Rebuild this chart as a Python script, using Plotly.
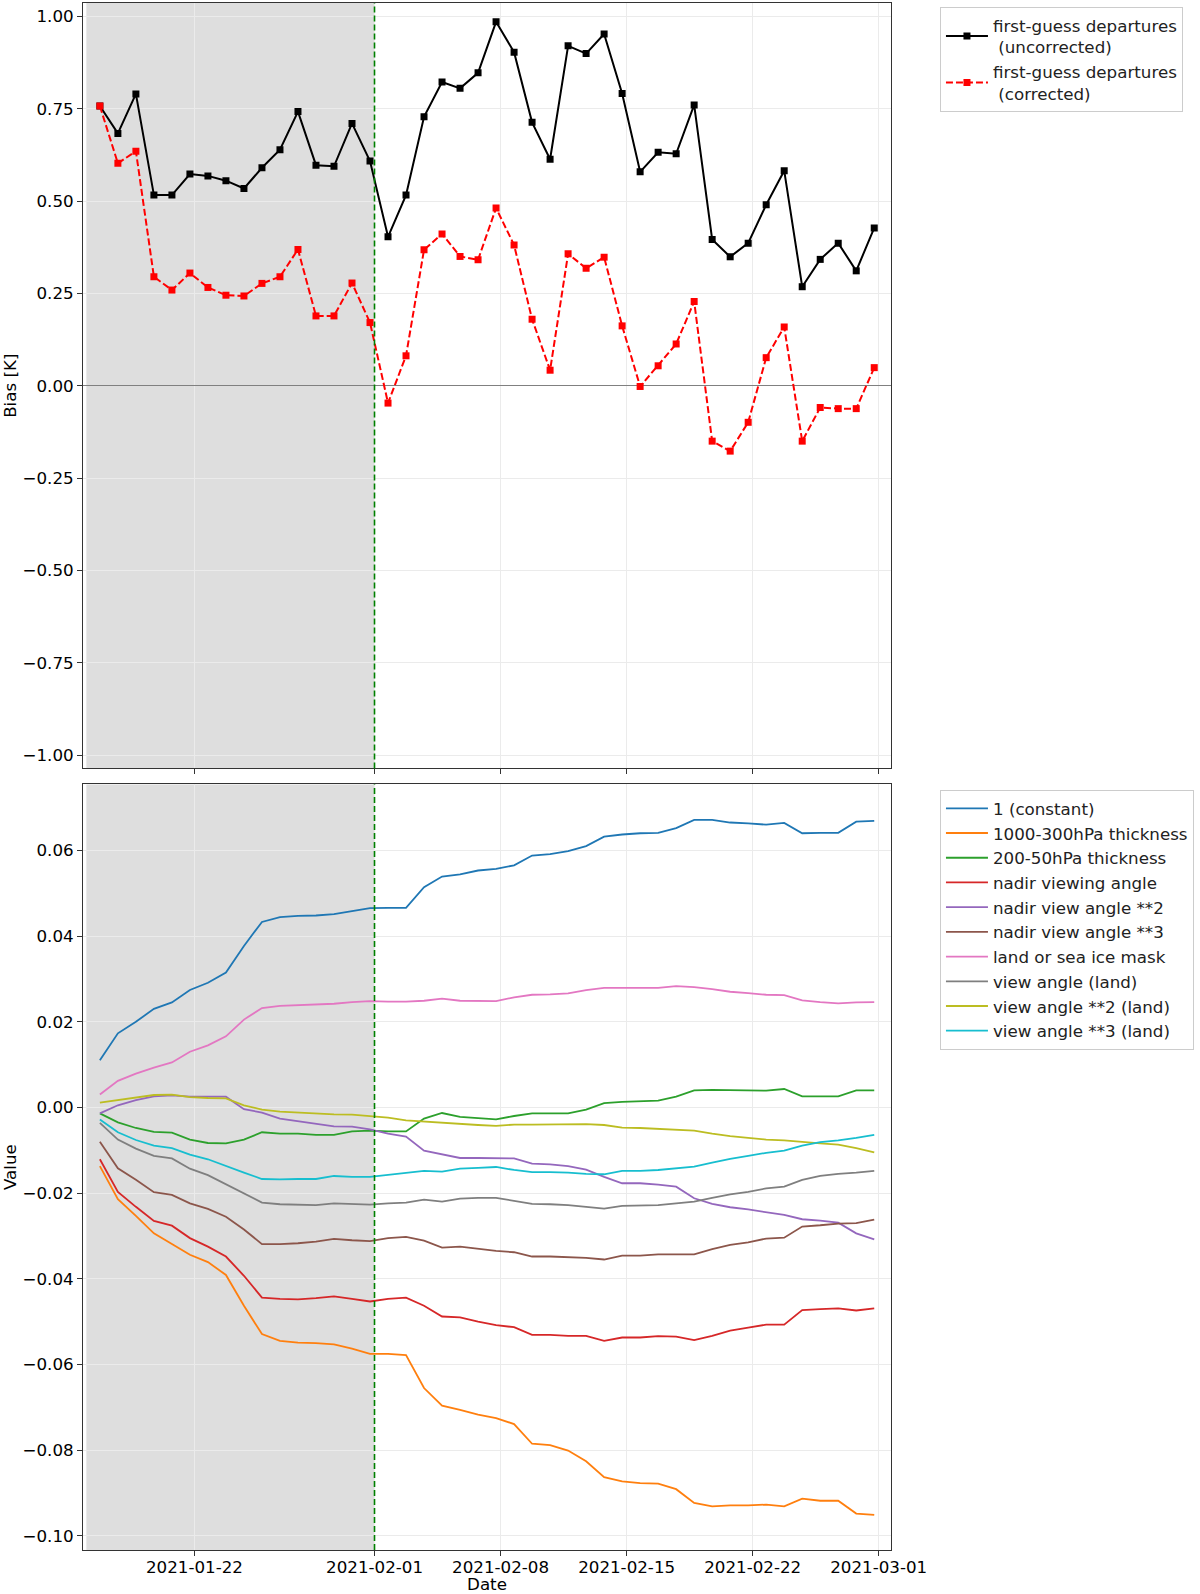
import pandas as pd
import plotly.graph_objects as go
from plotly.subplots import make_subplots

# ---------------- data ----------------
dates = pd.date_range("2021-01-16 18:00", periods=44, freq="D").strftime("%Y-%m-%d %H:%M").tolist()

fg_uncorrected = [0.757, 0.683, 0.790, 0.516, 0.516, 0.573, 0.568, 0.555, 0.534, 0.590, 0.639,
                  0.742, 0.597, 0.594, 0.710, 0.608, 0.403, 0.516, 0.728, 0.822, 0.805, 0.847,
                  0.985, 0.903, 0.713, 0.613, 0.920, 0.899, 0.952, 0.791, 0.579, 0.632, 0.628,
                  0.760, 0.396, 0.349, 0.386, 0.490, 0.582, 0.268, 0.342, 0.386, 0.311, 0.427]
fg_corrected = [0.757, 0.602, 0.635, 0.295, 0.259, 0.305, 0.266, 0.245, 0.243, 0.277, 0.295,
                0.369, 0.189, 0.189, 0.278, 0.171, -0.047, 0.081, 0.368, 0.411, 0.350, 0.341,
                0.481, 0.381, 0.180, 0.042, 0.357, 0.318, 0.348, 0.162, -0.002, 0.054, 0.113,
                0.228, -0.150, -0.177, -0.099, 0.076, 0.159, -0.150, -0.059, -0.062, -0.062, 0.049]

pred_constant = [0.0110, 0.0173, 0.0200, 0.0230, 0.0245, 0.0274, 0.0291, 0.0315, 0.0377, 0.0433, 0.0444,
                 0.0447, 0.0448, 0.0451, 0.0458, 0.0465, 0.0466, 0.0466, 0.0514, 0.0539, 0.0544, 0.0553,
                 0.0557, 0.0565, 0.0588, 0.0591, 0.0598, 0.0610, 0.0632, 0.0637, 0.0640, 0.0641, 0.0652,
                 0.0671, 0.0671, 0.0665, 0.0663, 0.0660, 0.0664, 0.0640, 0.0641, 0.0641, 0.0667, 0.0669]
pred_thick_1000_300 = [-0.0137, -0.0214, -0.0253, -0.0294, -0.0319, -0.0344, -0.0361, -0.0391, -0.0463, -0.0529, -0.0545,
                       -0.0549, -0.0550, -0.0553, -0.0563, -0.0575, -0.0575, -0.0578, -0.0655, -0.0696, -0.0706, -0.0717,
                       -0.0725, -0.0739, -0.0785, -0.0788, -0.0801, -0.0826, -0.0863, -0.0873, -0.0877, -0.0878, -0.0891,
                       -0.0923, -0.0931, -0.0929, -0.0929, -0.0927, -0.0931, -0.0913, -0.0918, -0.0918, -0.0948, -0.0951]
pred_thick_200_50 = [-0.0014, -0.0035, -0.0048, -0.0057, -0.0059, -0.0075, -0.0083, -0.0084, -0.0075, -0.0058, -0.0061,
                     -0.0061, -0.0064, -0.0064, -0.0056, -0.0054, -0.0056, -0.0056, -0.0026, -0.0013, -0.0022, -0.0025,
                     -0.0028, -0.0020, -0.0014, -0.0014, -0.0014, -0.0005, 0.0010, 0.0013, 0.0015, 0.0016, 0.0025,
                     0.0040, 0.0041, 0.0040, 0.0039, 0.0039, 0.0043, 0.0026, 0.0026, 0.0026, 0.0040, 0.0040]
pred_nadir = [-0.0121, -0.0197, -0.0232, -0.0265, -0.0276, -0.0305, -0.0325, -0.0348, -0.0393, -0.0444, -0.0447,
              -0.0448, -0.0445, -0.0441, -0.0447, -0.0453, -0.0447, -0.0444, -0.0463, -0.0488, -0.0490, -0.0500,
              -0.0508, -0.0513, -0.0531, -0.0531, -0.0533, -0.0533, -0.0545, -0.0537, -0.0537, -0.0534, -0.0535,
              -0.0543, -0.0533, -0.0521, -0.0514, -0.0507, -0.0507, -0.0473, -0.0471, -0.0469, -0.0474, -0.0469]
pred_nadir2 = [-0.0014, 0.0005, 0.0017, 0.0026, 0.0028, 0.0025, 0.0025, 0.0025, -0.0004, -0.0012, -0.0026,
               -0.0032, -0.0038, -0.0044, -0.0045, -0.0051, -0.0061, -0.0068, -0.0101, -0.0110, -0.0118, -0.0118,
               -0.0119, -0.0119, -0.0131, -0.0133, -0.0137, -0.0145, -0.0162, -0.0177, -0.0177, -0.0180, -0.0185,
               -0.0212, -0.0225, -0.0233, -0.0238, -0.0245, -0.0251, -0.0261, -0.0264, -0.0269, -0.0294, -0.0308]
pred_nadir3 = [-0.0080, -0.0142, -0.0169, -0.0198, -0.0204, -0.0224, -0.0237, -0.0255, -0.0285, -0.0319, -0.0319,
               -0.0317, -0.0313, -0.0307, -0.0310, -0.0312, -0.0305, -0.0302, -0.0311, -0.0327, -0.0325, -0.0330,
               -0.0335, -0.0338, -0.0348, -0.0348, -0.0350, -0.0351, -0.0355, -0.0346, -0.0346, -0.0343, -0.0343,
               -0.0343, -0.0331, -0.0321, -0.0315, -0.0306, -0.0304, -0.0278, -0.0275, -0.0271, -0.0270, -0.0262]
pred_landsea = [0.0030, 0.0062, 0.0079, 0.0093, 0.0105, 0.0130, 0.0145, 0.0166, 0.0205, 0.0232, 0.0237,
                0.0239, 0.0241, 0.0242, 0.0246, 0.0248, 0.0247, 0.0247, 0.0249, 0.0254, 0.0249, 0.0249,
                0.0248, 0.0257, 0.0263, 0.0264, 0.0266, 0.0274, 0.0279, 0.0279, 0.0279, 0.0279, 0.0283,
                0.0281, 0.0276, 0.0270, 0.0267, 0.0263, 0.0262, 0.0250, 0.0246, 0.0243, 0.0245, 0.0246]
pred_view_land = [-0.0036, -0.0075, -0.0096, -0.0113, -0.0119, -0.0143, -0.0158, -0.0179, -0.0200, -0.0222, -0.0226,
                  -0.0227, -0.0228, -0.0224, -0.0226, -0.0227, -0.0224, -0.0222, -0.0215, -0.0220, -0.0213, -0.0211,
                  -0.0211, -0.0218, -0.0225, -0.0226, -0.0228, -0.0232, -0.0236, -0.0230, -0.0229, -0.0228, -0.0224,
                  -0.0220, -0.0211, -0.0203, -0.0197, -0.0189, -0.0185, -0.0169, -0.0160, -0.0155, -0.0152, -0.0148]
pred_view2_land = [0.0011, 0.0017, 0.0024, 0.0029, 0.0030, 0.0024, 0.0022, 0.0021, 0.0005, -0.0005, -0.0010,
                   -0.0012, -0.0015, -0.0016, -0.0017, -0.0020, -0.0024, -0.0030, -0.0033, -0.0036, -0.0039, -0.0041,
                   -0.0043, -0.0040, -0.0040, -0.0040, -0.0040, -0.0039, -0.0041, -0.0047, -0.0048, -0.0050, -0.0051,
                   -0.0054, -0.0061, -0.0067, -0.0071, -0.0075, -0.0077, -0.0081, -0.0084, -0.0087, -0.0095, -0.0105]
pred_view3_land = [-0.0028, -0.0058, -0.0076, -0.0089, -0.0095, -0.0110, -0.0121, -0.0137, -0.0152, -0.0167, -0.0168,
                   -0.0167, -0.0167, -0.0160, -0.0162, -0.0162, -0.0157, -0.0153, -0.0148, -0.0150, -0.0143, -0.0141,
                   -0.0139, -0.0146, -0.0151, -0.0151, -0.0152, -0.0155, -0.0156, -0.0148, -0.0148, -0.0146, -0.0142,
                   -0.0138, -0.0129, -0.0120, -0.0113, -0.0106, -0.0101, -0.0089, -0.0081, -0.0077, -0.0071, -0.0064]

predictor_names = ["1 (constant)", "1000-300hPa thickness", "200-50hPa thickness", "nadir viewing angle",
                   "nadir view angle **2", "nadir view angle **3", "land or sea ice mask", "view angle (land)",
                   "view angle **2 (land)", "view angle **3 (land)"]
predictor_values = [pred_constant, pred_thick_1000_300, pred_thick_200_50, pred_nadir, pred_nadir2,
                    pred_nadir3, pred_landsea, pred_view_land, pred_view2_land, pred_view3_land]
predictor_colors = ["#1f77b4", "#ff7f0e", "#2ca02c", "#d62728", "#9467bd",
                    "#8c564b", "#e377c2", "#7f7f7f", "#bcbd22", "#17becf"]

x_tick_vals = ["2021-01-22", "2021-02-01", "2021-02-08", "2021-02-15", "2021-02-22", "2021-03-01"]
x_tick_text = ["2021-01-22", "2021-02-01", "2021-02-08", "2021-02-15", "2021-02-22", "2021-03-01"]
top_ticks = [-1.0, -0.75, -0.5, -0.25, 0.0, 0.25, 0.5, 0.75, 1.0]
bottom_ticks = [-0.10, -0.08, -0.06, -0.04, -0.02, 0.0, 0.02, 0.04, 0.06]

spin_up_start = "2021-01-16 00:00"
switch_date = "2021-02-01"
x_range = ["2021-01-15 19:30", "2021-03-01 16:20"]

# ---------------- figure ----------------
FONT = "DejaVu Sans"
FS = 16.7
fig = make_subplots(rows=2, cols=1, shared_xaxes=True)

fig.add_trace(go.Scatter(
    x=dates, y=fg_uncorrected, mode="lines+markers",
    name="first-guess departures<br>\u00a0(uncorrected)",
    line=dict(color="black", width=2),
    marker=dict(symbol="square", size=7, color="black"),
    legend="legend"), row=1, col=1)
fig.add_trace(go.Scatter(
    x=dates, y=fg_corrected, mode="lines+markers",
    name="first-guess departures<br>\u00a0(corrected)",
    line=dict(color="red", width=2, dash="7px,3px"),
    marker=dict(symbol="square", size=7, color="red"),
    legend="legend"), row=1, col=1)

for nm, vals, col in zip(predictor_names, predictor_values, predictor_colors):
    fig.add_trace(go.Scatter(
        x=dates, y=vals, mode="lines", name=nm,
        line=dict(color=col, width=1.8), legend="legend2"), row=2, col=1)

shapes = []
for xr, yr in (("x", "y domain"), ("x2", "y2 domain")):
    shapes.append(dict(type="rect", xref=xr, yref=yr, x0=spin_up_start, x1=switch_date,
                       y0=0, y1=1, fillcolor="#dedede", line=dict(width=0), layer="below"))
    shapes.append(dict(type="line", xref=xr, yref=yr, x0=switch_date, x1=switch_date,
                       y0=0, y1=1, line=dict(color="green", width=1.6, dash="6px,3px"), layer="above"))
fig.update_layout(shapes=shapes)

axis_common = dict(showline=True, mirror=True, linecolor="#333333", linewidth=1,
                   ticks="outside", ticklen=5, tickwidth=1, tickcolor="#333333",
                   showgrid=True, gridcolor="#ebebeb", gridwidth=1,
                   tickfont=dict(family=FONT, size=FS, color="black"))

fig.update_xaxes(**axis_common)
fig.update_yaxes(**axis_common)

fig.update_layout(
    xaxis=dict(range=x_range, tickvals=x_tick_vals, ticktext=x_tick_text, showticklabels=False),
    xaxis2=dict(range=x_range, tickvals=x_tick_vals, ticktext=x_tick_text, ticklabelstandoff=-3,
                title=dict(text="Date", font=dict(family=FONT, size=FS, color="black"), standoff=0)),
    yaxis=dict(domain=[0.5052, 1.0], range=[-1.036, 1.036], tickvals=top_ticks, tickformat=".2f",
               zeroline=True, zerolinecolor="#808080", zerolinewidth=1,
               title=dict(text="Bias [K]", font=dict(family=FONT, size=FS, color="black"), standoff=6)),
    yaxis2=dict(domain=[0.0, 0.4949], range=[-0.1033, 0.0754], tickvals=bottom_ticks, tickformat=".2f",
                zeroline=False,
                title=dict(text="Value", font=dict(family=FONT, size=FS, color="black"), standoff=6)),
)

legend_common = dict(font=dict(family=FONT, size=FS, color="#222222"), bgcolor="white",
                     bordercolor="#cccccc", borderwidth=1, xanchor="left", yanchor="top",
                     tracegroupgap=0, itemwidth=42)
fig.update_layout(
    legend=dict(x=1.0606, y=0.9975, **legend_common),
    legend2=dict(x=1.0606, y=0.4913, **legend_common),
    width=1200, height=1594,
    margin=dict(l=83, r=309, t=3, b=44, autoexpand=False),
    paper_bgcolor="white", plot_bgcolor="white",
    font=dict(family=FONT, size=FS, color="black"),
)

fig.write_html("out.html", config={"displayModeBar": False},
               post_script="document.body.style.margin='0px';")
